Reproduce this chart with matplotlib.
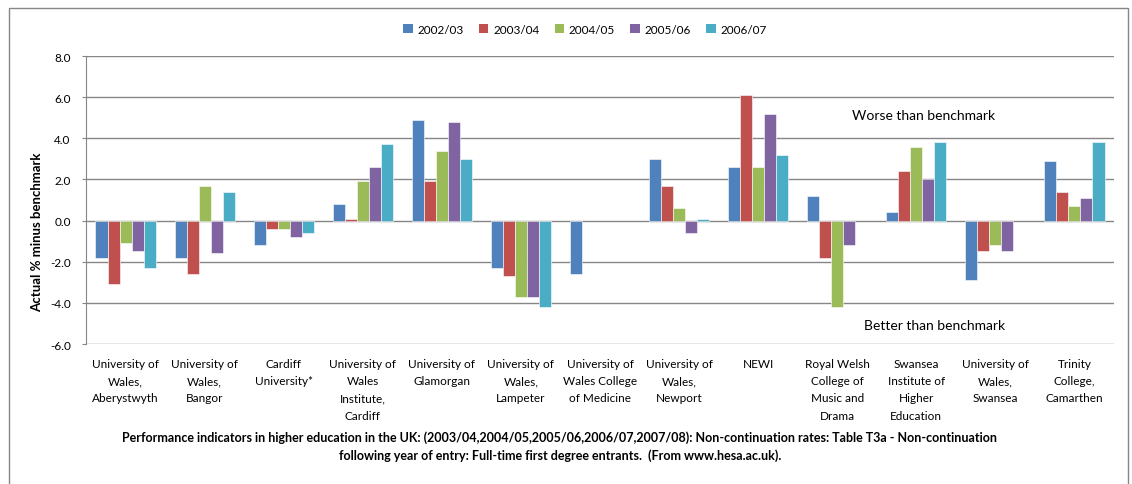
import numpy as np
import matplotlib.pyplot as plt
from matplotlib.patches import Patch, Rectangle

plt.rcParams['font.family'] = ['Lato', 'DejaVu Sans']

institutions = ["University of\nWales,\nAberystwyth", "University of\nWales,\nBangor", "Cardiff\nUniversity*",
                "University of\nWales\nInstitute,\nCardiff", "University of\nGlamorgan", "University of\nWales,\nLampeter",
                "University of\nWales College\nof Medicine", "University of\nWales,\nNewport", "NEWI",
                "Royal Welsh\nCollege of\nMusic and\nDrama", "Swansea\nInstitute of\nHigher\nEducation",
                "University of\nWales,\nSwansea", "Trinity\nCollege,\nCamarthen"]
years = ["2002/03", "2003/04", "2004/05", "2005/06", "2006/07"]

y2002 = [-1.8, -1.8, -1.2, 0.8, 4.9, -2.3, -2.6, 3.0, 2.6, 1.2, 0.4, -2.9, 2.9]
y2003 = [-3.1, -2.6, -0.4, 0.1, 1.9, -2.7, np.nan, 1.7, 6.1, -1.8, 2.4, -1.5, 1.4]
y2004 = [-1.1, 1.7, -0.4, 1.9, 3.4, -3.7, np.nan, 0.6, 2.6, -4.2, 3.6, -1.2, 0.7]
y2005 = [-1.5, -1.6, -0.8, 2.6, 4.8, -3.7, np.nan, -0.6, 5.2, -1.2, 2.0, -1.5, 1.1]
y2006 = [-2.3, 1.4, -0.6, 3.7, 3.0, -4.2, np.nan, 0.1, 3.2, np.nan, 3.8, np.nan, 3.8]

colors = ['#4F81BD', '#C0504D', '#9BBB59', '#8064A2', '#4BACC6']
footnote = ("Performance indicators in higher education in the UK: (2003/04,2004/05,2005/06,2006/07,2007/08): "
            "Non-continuation rates: Table T3a - Non-continuation\n"
            "following year of entry: Full-time first degree entrants.  (From www.hesa.ac.uk).")


def main():
    W, H = 1132, 485
    fig = plt.figure(figsize=(W / 100, H / 100), dpi=100)
    ax = fig.add_axes([86 / W, 1 - 345 / H, (1114 - 86) / W, (345 - 57) / H])

    # outer chart border (bottom edge runs off the picture)
    fig.patches.append(Rectangle((9 / W, -0.1), (1128 - 9) / W, 1.1 - 9 / H,
                                 transform=fig.transFigure, fill=False, edgecolor='#868686', linewidth=1))

    x = np.arange(len(institutions))
    w = 0.152
    series = [y2002, y2003, y2004, y2005, y2006]
    for i, vals in enumerate(series):
        ax.bar(x + (i - 2) * w, vals, w, color=colors[i], edgecolor='white', linewidth=0.4, zorder=3)

    ax.set_xlim(-0.5, len(institutions) - 0.5)
    ax.set_ylim(-6, 8)
    ticks = np.arange(-6, 8.1, 2)
    ax.set_yticks(ticks)
    ax.set_yticklabels(["%.1f" % v for v in ticks], fontsize=8.5)
    ax.yaxis.grid(True, color='#868686', linewidth=1)
    ax.set_axisbelow(True)
    ax.tick_params(axis='y', length=3, color='#868686', pad=8)
    ax.set_xticks(x)
    ax.set_xticklabels(institutions, fontsize=8.5, linespacing=1.7)
    ax.tick_params(axis='x', length=0, pad=10)
    for s in ['top', 'right', 'bottom']:
        ax.spines[s].set_visible(False)
    ax.spines['left'].set_color('#868686')

    fig.text(852 / W, 1 - 116 / H, "Worse than benchmark", fontsize=10, va='center')
    fig.text(864 / W, 1 - 326 / H, "Better than benchmark", fontsize=10, va='center')

    fig.text(37 / W, 1 - 232 / H, "Actual % minus benchmark", rotation=90, fontsize=9.5,
             fontweight='bold', ha='center', va='center')

    handles = [Patch(facecolor=c, edgecolor='none') for c in colors]
    fig.legend(handles, years, loc='center', bbox_to_anchor=(585 / W, 1 - 30 / H), ncol=5, frameon=False,
               fontsize=8.5, handlelength=0.8, handleheight=0.8, handletextpad=0.4, columnspacing=1.3)

    fig.text(560 / W, 1 - 447 / H, footnote, fontsize=9, fontweight='bold', ha='center', va='center',
             linespacing=1.5)

    fig.savefig('out.png', dpi=100)


if __name__ == '__main__':
    main()
